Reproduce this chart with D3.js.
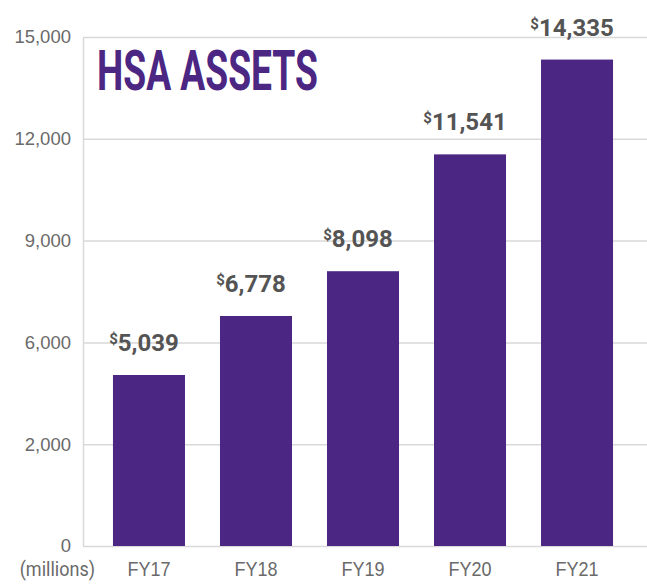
<!DOCTYPE html>
<html>
<head>
<meta charset="utf-8">
<script src="https://cdn.jsdelivr.net/npm/d3@7"></script>
<style>
  body { margin: 0; background: #fff; }
  svg { display: block; font-family: Roboto, "Liberation Sans", sans-serif; }
</style>
</head>
<body>
<div id="chart"></div>
<script>
const years = ['FY17', 'FY18', 'FY19', 'FY20', 'FY21'];
const assets = [5039, 6778, 8098, 11541, 14335];
const tickValues = [0, 3000, 6000, 9000, 12000, 15000];
// tick labels as printed on the original (incl. the "2,000" at 3,000)
const tickLabels = ['0', '2,000', '6,000', '9,000', '12,000', '15,000'];

const W = 647, H = 584;
const margin = { top: 37, right: 0, bottom: 38, left: 83 };
const purple = '#4b2683';
const grid = '#d9d9d9';
const grey = '#6a6a6a';

const svg = d3.select('#chart').append('svg')
  .attr('width', W)
  .attr('height', H);

const y = d3.scaleLinear()
  .domain([0, 15000])
  .range([H - margin.bottom, margin.top]);

const x = d3.scaleBand()
  .domain(years)
  .range([margin.left, 643])
  .paddingInner(0.327)
  .paddingOuter(0.28);

// y axis + gridlines
const yAxis = svg.append('g')
  .attr('transform', `translate(${margin.left},0)`)
  .call(d3.axisLeft(y)
    .tickValues(tickValues)
    .tickFormat((d, i) => tickLabels[i])
    .tickSize(-(W - margin.left))
    .tickSizeOuter(0)
    .tickPadding(12));

yAxis.select('.domain').attr('stroke', grid).attr('stroke-width', 1.5);
yAxis.selectAll('.tick line').attr('stroke', grid).attr('stroke-width', 1.5);
yAxis.selectAll('.tick text')
  .style('font-size', '18.5px')
  .attr('fill', grey);

// title
svg.append('text')
  .attr('x', 97)
  .attr('y', 90)
  .attr('textLength', 221)
  .attr('lengthAdjust', 'spacingAndGlyphs')
  .style('font-size', '56px')
  .style('font-weight', 'bold')
  .attr('fill', purple)
  .text('HSA ASSETS');

// bars
svg.selectAll('rect.bar')
  .data(assets)
  .join('rect')
  .attr('class', 'bar')
  .attr('x', (d, i) => x(years[i]))
  .attr('y', d => y(d))
  .attr('width', x.bandwidth())
  .attr('height', d => y(0) - y(d))
  .attr('fill', purple);

// value labels with small raised $
const labels = svg.selectAll('text.val')
  .data(assets)
  .join('text')
  .attr('class', 'val')
  .attr('x', (d, i) => x(years[i]) + x.bandwidth() / 2 - 5)
  .attr('y', d => y(d) - 24)
  .attr('text-anchor', 'middle')
  .attr('fill', '#545454')
  .style('font-weight', 'bold');

labels.append('tspan')
  .style('font-size', '15px')
  .attr('dy', -7)
  .text('$');
labels.append('tspan')
  .style('font-size', '24px')
  .attr('dy', 7)
  .text(d => d3.format(',')(d));

// x axis labels
const xAxis = svg.append('g')
  .attr('transform', `translate(0,${y(0)})`)
  .call(d3.axisBottom(x).tickSize(0).tickPadding(15));
xAxis.select('.domain').remove();
xAxis.selectAll('.tick text')
  .style('font-size', '20.5px')
  .attr('fill', grey)
  .attr('transform', 'scale(0.88,1)');

svg.append('text')
  .attr('transform', `translate(95,${y(0)}) scale(0.88,1)`)
  .attr('y', 15)
  .attr('dy', '0.71em')
  .attr('text-anchor', 'end')
  .style('font-size', '20.5px')
  .attr('fill', grey)
  .text('(millions)');
</script>
</body>
</html>
